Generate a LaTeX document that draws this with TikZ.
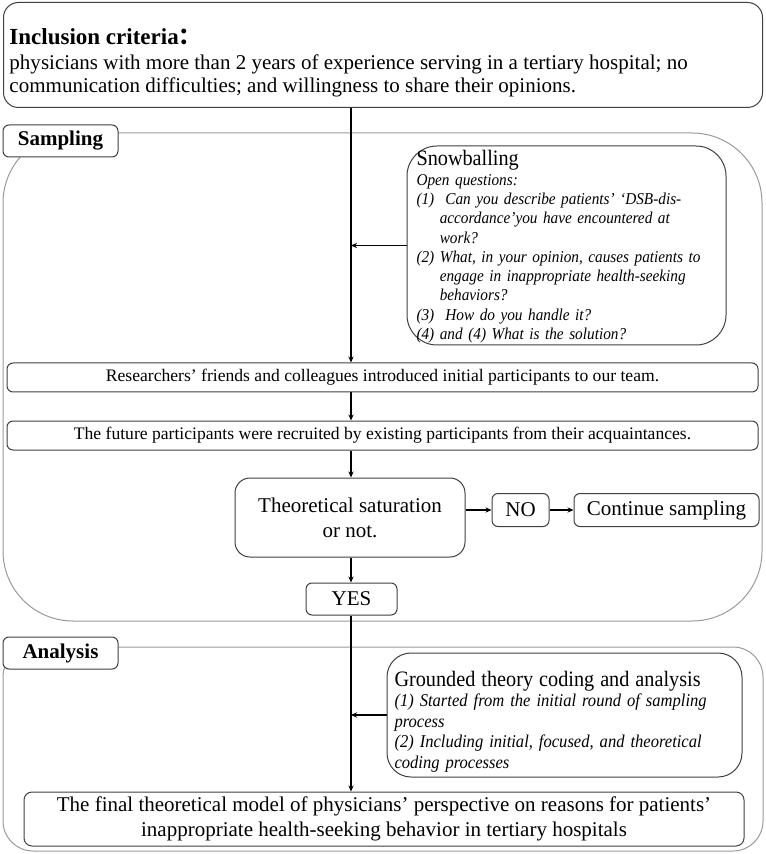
\documentclass[tikz,border=0pt]{standalone}
\usepackage{fontspec}
\setmainfont{Liberation Serif}
\newfontfamily\cjk{Noto Sans CJK SC}
\newfontfamily\qfont{Liberation Serif}[FakeStretch=0.92]
\usetikzlibrary{arrows.meta,calc}
\newdimen\px \px=0.5pt

\tikzset{
  box/.style={draw=black!75, line width=0.5pt, fill=white, rounded corners=3pt, align=center, inner sep=0pt},
  region/.style={draw=black!40, line width=0.5pt},
  tag/.style={box, font=\fontsize{10.5}{12}\selectfont\bfseries, minimum width=115\px, minimum height=32\px},
  stepbox/.style={box, minimum width=751\px, minimum height=29\px, font=\fontsize{8.8}{11}\selectfont},
  answer/.style={box, minimum height=33\px, font=\fontsize{10.5}{12.5}\selectfont},
  flow/.style={-{Stealth[length=3pt,width=2.6pt]}, line width=0.75pt},
}

\begin{document}
\begin{tikzpicture}[x=0.5pt,y=-0.5pt]
\useasboundingbox (0,0) rectangle (765,854);
\coordinate (axis) at (351,0);

% the two phases
\draw[region, rounded corners=35pt] (3,133) rectangle (762,621);
\draw[region, rounded corners=15pt] (3,647) rectangle (763,851);

\node (inc) [box, rounded corners=7.5pt, anchor=north west] at (3,2)
  {\parbox[c][105\px][t]{759\px}{\raggedright\leftskip=6\px
   \vspace*{26\px}{\fontsize{11.5}{14}\selectfont\bfseries Inclusion criteria{\cjk ：}}\par
   \vspace{2\px}\fontsize{10.5}{11.5}\selectfont
   physicians with more than 2 years of experience serving in a tertiary hospital; no\\
   communication difficulties; and willingness to share their opinions.}};

\node (samp) [tag] at (60.5,141) {Sampling};
\node (snow) [box, rounded corners=15pt, minimum width=319\px, minimum height=199\px,
  text width=300\px, align=left, font=\qfont\fontsize{8.3}{9.65}\selectfont\itshape] at (566.5,245.5)
  {{\upshape\fontsize{11}{10.5}\selectfont\rule{0pt}{9pt}Snowballing}\\
   Open questions:\\
   (1)\ \ Can you describe patients’ ‘DSB-dis-\\
   \hspace*{1.4em}accordance’you have encountered at\\
   \hspace*{1.4em}work?\\
   (2)\ What, in your opinion, causes patients to\\
   \hspace*{1.4em}engage in inappropriate health-seeking\\
   \hspace*{1.4em}behaviors?\\
   (3)\ \ How do you handle it?\\
   (4)\ and (4) What is the solution?};

\node (res) [stepbox] at (382.5,377.5) {Researchers’ friends and colleagues introduced initial participants to our team.};
\node (fut) [stepbox] at (382.5,435.5) {The future participants were recruited by existing participants from their acquaintances.};
\node (sat) [box, rounded corners=7.5pt, minimum width=230\px, minimum height=79\px,
  font=\fontsize{10.5}{12.5}\selectfont] at (350,517.5) {Theoretical saturation\\or not.};
\node (no) [answer, minimum width=57\px] at (520.5,510) {NO};
\node (cont) [answer, minimum width=185\px] at (666.5,510) {Continue sampling};
\node (yes) [answer, minimum width=91\px, minimum height=32\px] at (351.5,599) {YES};

\node (ana) [tag] at (60.5,653) {Analysis};
\node (grd) [box, rounded corners=12pt, minimum width=355\px, minimum height=124\px,
  text width=340\px, align=left, font=\qfont\fontsize{9}{10.25}\selectfont\itshape] at (564.5,715)
  {{\upshape\fontsize{11}{11}\selectfont\rule{0pt}{14pt}Grounded theory coding and analysis}\\
   (1) Started from the initial round of sampling\\
   process\\
   (2) Including initial, focused, and theoretical\\
   coding processes};
\node (fin) [box, rounded corners=4pt, minimum width=720\px, minimum height=54\px,
  font=\fontsize{10.5}{12.5}\selectfont] at (384,819)
  {The final theoretical model of physicians’ perspective on reasons for patients’\\
   inappropriate health-seeking behavior in tertiary hospitals};

% main flow
\draw[flow] (inc.south -| axis) -- (res.north -| axis);
\draw[flow] (res.south -| axis) -- (fut.north -| axis);
\draw[flow] (fut.south -| axis) -- (sat.north -| axis);
\draw[flow] (sat.south -| axis) -- (yes.north -| axis);
\draw[flow] (yes.south -| axis) -- (fin.north -| axis);
\draw[flow] (snow.west) -- (snow.west -| axis);
\draw[flow] (grd.west) -- (grd.west -| axis);
\draw[flow] (no.west -| sat.east) -- (no.west);
\draw[flow] (no) -- (cont);
\end{tikzpicture}
\end{document}
